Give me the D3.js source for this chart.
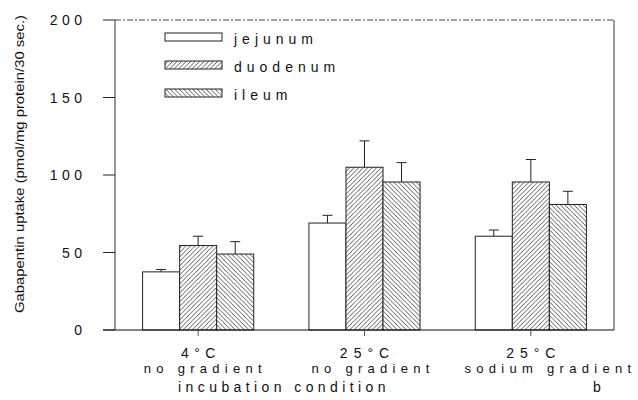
<!DOCTYPE html>
<html><head><meta charset="utf-8">
<script src="https://cdn.jsdelivr.net/npm/d3@7"></script>
<style>body{margin:0;background:#fff}svg{font-family:"Liberation Sans",Arial,sans-serif}</style>
</head><body><svg id="c" width="638" height="400"></svg>
<script>
const categories = [["4°C","no gradient"],["25°C","no gradient"],["25°C","sodium gradient"]];
const series = ["jejunum","duodenum","ileum"];
const jejunum = [37.5, 69, 60.5];
const duodenum = [54.5, 105, 95.5];
const ileum = [49, 95.5, 81];
const jejunumErr = [1.5, 5, 4];
const duodenumErr = [6, 17, 14.5];
const ileumErr = [8, 12.5, 8.5];
const yTicks = [0, 50, 100, 150, 200];
const values = {jejunum, duodenum, ileum};
const errors = {jejunum: jejunumErr, duodenum: duodenumErr, ileum: ileumErr};

const svg = d3.select("#c");
const L = 115, R = 614, T = 20, B = 330;
const defs = svg.append("defs");
function hatch(id, dir){
  const p = defs.append("pattern").attr("id", id).attr("patternUnits","userSpaceOnUse")
    .attr("width", 4.5).attr("height", 4.5);
  p.append("rect").attr("width",4.5).attr("height",4.5).attr("fill","#fff");
  const d = dir > 0 ? "M-1,1 l2,-2 M0,4.5 l4.5,-4.5 M3.5,5.5 l2,-2" : "M-1,3.5 l2,2 M0,0 l4.5,4.5 M3.5,-1 l2,2";
  p.append("path").attr("d", d).attr("stroke","#3a3a3a").attr("stroke-width",0.85);
}
hatch("hf", 1); hatch("hb", -1);
const fills = {jejunum:"#fff", duodenum:"url(#hf)", ileum:"url(#hb)"};

const x = d3.scaleBand().domain(d3.range(categories.length)).range([L, R]);
const xs = d3.scaleBand().domain(series).range([0, x.bandwidth()]).paddingInner(0).paddingOuter(0.745);
const y = d3.scaleLinear().domain([0, 200]).range([B, T]);

// frame
svg.append("line").attr("x1",L).attr("x2",R).attr("y1",T).attr("y2",T).attr("stroke","#444").attr("stroke-dasharray","6,2,2,2");
svg.append("line").attr("x1",R).attr("x2",R).attr("y1",T).attr("y2",B).attr("stroke","#333");
svg.append("line").attr("x1",L).attr("x2",L).attr("y1",T).attr("y2",B).attr("stroke","#555").attr("stroke-width",1.2);

// bars
categories.forEach((c, i) => {
  series.forEach(s => {
    const bx = x(i) + xs(s), bw = xs.bandwidth();
    const v = values[s][i], e = errors[s][i];
    svg.append("rect").attr("x", bx).attr("y", y(v)).attr("width", bw).attr("height", y(0)-y(v))
      .attr("fill", fills[s]).attr("stroke","#222").attr("stroke-width",1);
    const cx = bx + bw/2;
    svg.append("line").attr("x1",cx).attr("x2",cx).attr("y1",y(v)).attr("y2",y(v+e)).attr("stroke","#222");
    svg.append("line").attr("x1",cx-5).attr("x2",cx+5).attr("y1",y(v+e)).attr("y2",y(v+e)).attr("stroke","#222");
  });
});

// bottom axis line
svg.append("line").attr("x1",103).attr("x2",R).attr("y1",B).attr("y2",B).attr("stroke","#111").attr("stroke-width",1.2);

// y ticks
yTicks.forEach(t => {
  svg.append("line").attr("x1",103).attr("x2",L).attr("y1",y(t)).attr("y2",y(t)).attr("stroke","#222");
  svg.append("text").attr("x", 86.5).attr("y", y(t)).attr("dy","0.36em").attr("text-anchor","end")
    .attr("font-size",14).style("letter-spacing","4.5px").attr("fill","#111").text(t);
});

// x ticks
const xa = svg.append("g").attr("transform",`translate(0,${B})`)
  .call(d3.axisBottom(x).tickSize(6).tickFormat(""));
xa.select(".domain").remove();
xa.selectAll(".tick line").attr("stroke","#555");
const line2Offset = [7.2, 8.6, 19.6];
categories.forEach((c, i) => {
  const cx = x(i) + x.bandwidth()/2;
  const ls1 = c[0].length > 3 ? 6 : 5.5;
  svg.append("text").attr("x", cx + ls1/2).attr("y", 357.5).attr("text-anchor","middle").attr("font-size",14)
    .style("letter-spacing", ls1 + "px").attr("fill","#111").text(c[0]);
  svg.append("text").attr("x", cx + line2Offset[i]).attr("y", 373).attr("text-anchor","middle").attr("font-size",13)
    .style("letter-spacing","5.3px").attr("fill","#111").text(c[1]);
});
svg.append("text").attr("x", 284).attr("y", 392).attr("text-anchor","middle").attr("font-size",14)
  .style("letter-spacing","4.4px").attr("fill","#111").text("incubation condition");
svg.append("text").attr("x", 597).attr("y", 392).attr("text-anchor","middle").attr("font-size",14)
  .attr("fill","#111").text("b");

// y title
svg.append("text").attr("transform","translate(24,164) rotate(-90)").attr("text-anchor","middle")
  .attr("font-size",13).attr("fill","#111").attr("textLength",298).attr("lengthAdjust","spacingAndGlyphs")
  .text("Gabapentin uptake (pmol/mg protein/30 sec.)");

// legend
series.forEach((s, i) => {
  const ly = 33 + i*28;
  svg.append("rect").attr("x",165).attr("y",ly).attr("width",57).attr("height",8)
    .attr("fill",fills[s]).attr("stroke","#222");
  svg.append("text").attr("x",234).attr("y",ly+11).attr("font-size",14).style("letter-spacing","5px")
    .attr("fill","#111").text(s);
});
</script></body></html>
